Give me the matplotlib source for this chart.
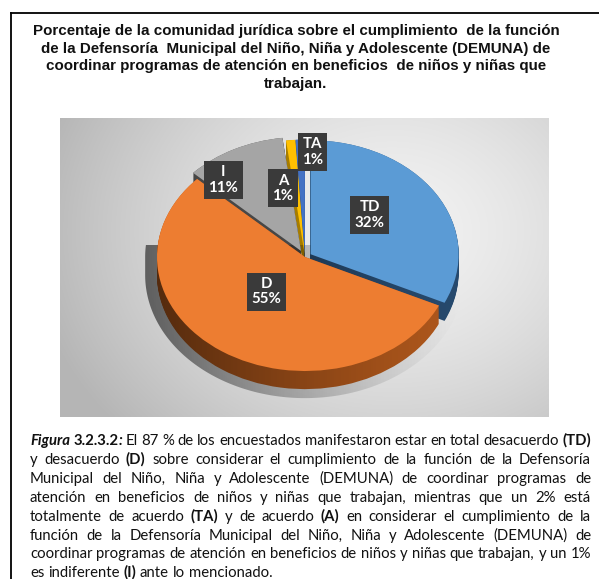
import re
import numpy as np
import matplotlib
matplotlib.use('Agg')
import matplotlib.pyplot as plt
from matplotlib.patches import Polygon
from matplotlib.lines import Line2D
from matplotlib.font_manager import FontProperties

# ---------------- data ----------------
categories = ['TD', 'D', 'I', 'A', 'TA']
values = [32, 55, 11, 1, 1]
pct_labels = ['32%', '55%', '11%', '1%', '1%']
top_colors = ['#5B9BD5', '#ED7D31', '#A5A5A5', '#FFC000', '#4472C4']
side_colors = ['#274A6E', '#B0581C', '#474747', '#A67C00', '#2C4A84']
explode = [0.045, 0.0, 0.06, 0.03, 0.03]

title_text = ("Porcentaje de la comunidad jurídica sobre el cumplimiento  de la función\n"
              "de la Defensoría  Municipal del Niño, Niña y Adolescente (DEMUNA) de\n"
              "coordinar programas de atención en beneficios  de niños y niñas que\n"
              "trabajan.")

caption_lines = [
    "<bi>Figura</bi> <b>3.2.3.2</b><bi>:</bi> El 87 % de los encuestados manifestaron estar en total desacuerdo <b>(TD)</b>",
    "y desacuerdo <b>(D)</b> sobre considerar el cumplimiento de la función de la Defensoría",
    "Municipal del Niño, Niña y Adolescente (DEMUNA) de coordinar programas de",
    "atención en beneficios de niños y niñas que trabajan, mientras que un 2% está",
    "totalmente de acuerdo <b>(TA)</b> y de acuerdo <b>(A)</b> en considerar el cumplimiento de la",
    "función de la Defensoría  Municipal del Niño, Niña y Adolescente (DEMUNA) de",
    "coordinar programas de atención en beneficios de niños y niñas que trabajan, y un 1%",
    "es indiferente <b>(I)</b> ante lo mencionado.",
]

# ---------------- figure ----------------
W, H = 599, 579
fig = plt.figure(figsize=(W / 100, H / 100), dpi=100)
fig.patch.set_facecolor('white')

def fx(x):
    return x / W

def fy(y):
    return 1 - y / H

# outer frame (left and top edges visible)
fig.add_artist(Line2D([fx(11), fx(11)], [fy(13), fy(H + 5)], color='black', lw=1.3,
                      transform=fig.transFigure))
fig.add_artist(Line2D([fx(11), fx(W + 5)], [fy(13), fy(13)], color='black', lw=1.3,
                      transform=fig.transFigure))

# title
fig.text(fx(296), fy(24), title_text, ha='center', va='top', fontsize=10.9,
         fontweight='bold', family='Liberation Sans', linespacing=1.32, color='#111111')

# ---------------- chart area ----------------
cx_img, cy_img, rx, ry = 305, 257, 148, 114
L, T, R, B = 60, 118, 549, 417
ax = fig.add_axes([fx(L), fy(B), (R - L) / W, (B - T) / H])
xlim = ((L - cx_img) / rx, (R - cx_img) / rx)
ylim = ((cy_img - B) / ry, (cy_img - T) / ry)

# background radial gradient
gx = np.linspace(0, 1, 300)
gy = np.linspace(0, 1, 200)
GX, GY = np.meshgrid(gx, gy)
dist = np.sqrt(((GX - 0.68) * 1.0) ** 2 + ((GY - 0.62) * 0.75) ** 2)
shade = 0.95 - 0.24 * np.clip(dist / 0.75, 0, 1) ** 1.5
bg = np.dstack([shade, shade, shade])
ax.imshow(bg, extent=(xlim[0], xlim[1], ylim[0], ylim[1]), origin='lower',
          aspect='auto', zorder=0, interpolation='bilinear')

depth = 18 / ry
n_layers = 20
for k in range(n_layers):
    off = -depth * (1 - k / (n_layers - 1)) - 0.001
    wedges, _ = ax.pie(values, explode=explode, colors=side_colors, startangle=90,
                       counterclock=False, center=(0, off), radius=1.0,
                       wedgeprops=dict(linewidth=0))
    for w in wedges:
        w.set_zorder(2)

# shading overlay on the side walls
t1 = np.linspace(0, np.pi, 200)
t2 = np.linspace(np.pi, 2 * np.pi, 200)
cap = np.concatenate([np.column_stack([1.08 * np.cos(t1), 1.08 * np.sin(t1)]),
                      np.column_stack([1.08 * np.cos(t2), 1.08 * np.sin(t2) - depth])])
cap_patch = Polygon(cap, closed=True, transform=ax.transData, facecolor='none', edgecolor='none')
ax.add_patch(cap_patch)
ov_x = np.linspace(0, 1, 200)
ov = np.zeros((2, 200, 4))
ov[..., 3] = 0.55 * (1 - ov_x) ** 1.3
im = ax.imshow(ov, extent=(-1.1, 1.1, -1.3, 0.1), origin='lower', aspect='auto', zorder=3)
im.set_clip_path(cap_patch)

wedges, _ = ax.pie(values, explode=explode, colors=top_colors, startangle=90,
                   counterclock=False, center=(0, 0), radius=1.0,
                   wedgeprops=dict(linewidth=0))
for w in wedges:
    w.set_zorder(4)

# labels
label_r = [0.57, 0.40, 0.87, 0.62, 0.92]
label_da = [7.6, -6.5, 12.3, 8.6, -4.9]
ang = 90.0
for cat, v, p, r, da in zip(categories, values, pct_labels, label_r, label_da):
    mid = ang - v * 360 / sum(values) / 2
    ang -= v * 360 / sum(values)
    a = np.deg2rad(mid + da)
    ax.text(r * np.cos(a), r * np.sin(a), f"{cat}\n{p}", ha='center', va='center',
            color='white', fontsize=10.8, fontweight='bold', family='Lato',
            linespacing=1.15, zorder=6,
            bbox=dict(boxstyle='square,pad=0.28', fc='#3A3A3A', ec='none'))

ax.set_aspect('auto')
ax.set_xlim(*xlim)
ax.set_ylim(*ylim)
ax.axis('off')

# ---------------- caption (justified) ----------------
renderer = fig.canvas.get_renderer()
cap_left, cap_right = 30, 591
line_y0, line_dy = 445, 18.9
fs = 10.7
family = 'Lato'
style_map = {None: ('normal', 'normal'), 'b': ('bold', 'normal'),
             'bi': ('bold', 'italic'), 'i': ('normal', 'italic')}

def parse(line):
    runs = []
    for m in re.finditer(r'<(bi|b|i)>(.*?)</\1>|([^<]+)', line):
        if m.group(3) is not None:
            runs.append((m.group(3), None))
        else:
            runs.append((m.group(2), m.group(1)))
    words = [[]]
    for text, st in runs:
        parts = text.split(' ')
        for k, ptxt in enumerate(parts):
            if k > 0:
                words.append([])
            if ptxt:
                words[-1].append((ptxt, st))
    return [w for w in words if w]

space_t = fig.text(0, 0, 'a a', fontsize=fs, family=family)
nospace_t = fig.text(0, 0, 'aa', fontsize=fs, family=family)
space_w = (space_t.get_window_extent(renderer).width -
           nospace_t.get_window_extent(renderer).width)
space_t.remove()
nospace_t.remove()

for li, line in enumerate(caption_lines):
    words = parse(line)
    base_disp = H - round(line_y0 + li * line_dy)   # integer pixel baseline
    objs = []
    widths = []
    for w in words:
        wo = []
        ww = 0
        for text, st in w:
            weight, fstyle = style_map[st]
            fp = FontProperties(family=family, size=fs, weight=weight, style=fstyle)
            _, _, desc = renderer.get_text_width_height_descent(text, fp, ismath=False)
            yy = base_disp + (desc - np.floor(desc))
            t = fig.text(0, yy / H, text, fontproperties=fp,
                         va='baseline', ha='left', color='#111111')
            tw = t.get_window_extent(renderer).width
            wo.append((t, tw))
            ww += tw
        objs.append(wo)
        widths.append(ww)
    last = li == len(caption_lines) - 1
    if last or len(words) < 2:
        gap = space_w
    else:
        gap = (cap_right - cap_left - sum(widths)) / (len(words) - 1)
    x = cap_left
    for wo, ww in zip(objs, widths):
        xx = x
        for t, tw in wo:
            t.set_x(fx(xx))
            xx += tw
        x += ww + gap

fig.savefig('out.png', dpi=100, facecolor='white')
